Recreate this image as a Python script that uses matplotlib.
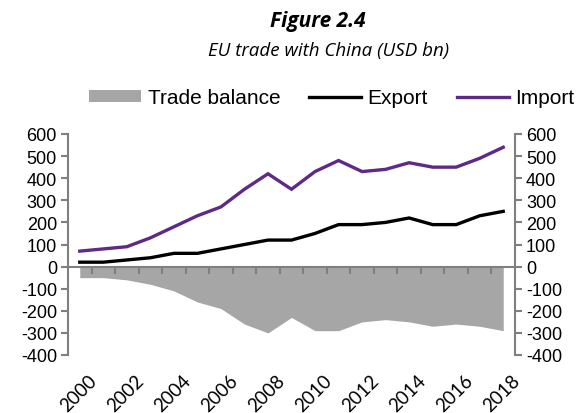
import matplotlib
matplotlib.use("Agg")
import matplotlib.pyplot as plt
import matplotlib.transforms as mtransforms
from matplotlib.patches import Patch
from matplotlib.lines import Line2D
import numpy as np

years = list(range(2000, 2019))
export = [20, 20, 30, 40, 60, 60, 80, 100, 120, 120, 150, 190, 190, 200, 220, 190, 190, 230, 250]
imports = [70, 80, 90, 130, 180, 230, 270, 350, 420, 350, 430, 480, 430, 440, 470, 450, 450, 490, 540]
balance = [-50, -50, -60, -80, -110, -160, -190, -260, -300, -230, -290, -290, -250, -240, -250, -270, -260, -270, -290]
yticks = [-400, -300, -200, -100, 0, 100, 200, 300, 400, 500, 600]

GRAY_AX = "#7f7f7f"
PURPLE = "#5e2a86"
AREA = "#a6a6a6"
TICKFONT = "Liberation Sans"

fig = plt.figure(figsize=(5.79, 4.14), dpi=100)
ax = fig.add_axes([68/579, 1-356/414, (515-68)/579, (356-135)/414])

x = np.arange(len(years))
ax.fill_between(x, 0, balance, color=AREA, linewidth=0, zorder=1)
ax.plot(x, export, color="black", lw=2.4, zorder=3, solid_joinstyle="miter")
ax.plot(x, imports, color=PURPLE, lw=2.4, zorder=3, solid_joinstyle="miter")

ax.set_xlim(-0.5, len(years) - 0.5)
ax.set_ylim(-400, 600)

for s in ["top", "right"]:
    ax.spines[s].set_visible(False)
ax.spines["left"].set_color(GRAY_AX)
ax.spines["left"].set_linewidth(1.5)
ax.spines["bottom"].set_position(("data", 0))
ax.spines["bottom"].set_color(GRAY_AX)
ax.spines["bottom"].set_linewidth(1.5)
ax.spines["bottom"].set_zorder(2)

ax.set_yticks(yticks)
ax.set_yticklabels([str(v) for v in yticks], fontsize=13, family=TICKFONT)
ax.tick_params(axis="y", direction="out", length=5, width=1.5, color=GRAY_AX, pad=3)

ax.set_xticks(np.arange(0.5, len(years) - 1, 1))
ax.set_xticklabels([])
ax.tick_params(axis="x", direction="out", length=5, width=1.5, color=GRAY_AX)

trans = mtransforms.blended_transform_factory(ax.transData, ax.transAxes)
for i, yr in enumerate(years):
    if yr % 2 == 0:
        ax.text(i + 0.35, -0.075, str(yr), transform=trans, rotation=45,
                rotation_mode="anchor", ha="right", va="top",
                fontsize=13.5, family="Lato")

ax2 = ax.twinx()
ax2.set_ylim(-400, 600)
for s in ["top", "left", "bottom"]:
    ax2.spines[s].set_visible(False)
ax2.spines["right"].set_color(GRAY_AX)
ax2.spines["right"].set_linewidth(1.5)
ax2.set_yticks(yticks)
ax2.set_yticklabels([str(v) for v in yticks], fontsize=13, family=TICKFONT)
ax2.tick_params(axis="y", direction="out", length=5, width=1.5, color=GRAY_AX, pad=3)

handles = [Patch(facecolor=AREA, edgecolor="none", label="Trade balance"),
           Line2D([], [], color="black", lw=2.4, label="Export"),
           Line2D([], [], color=PURPLE, lw=2.4, label="Import")]
fig.legend(handles=handles, loc="center", bbox_to_anchor=(332/579, 1-99/414), ncol=3,
           frameon=False, prop={"family": TICKFONT, "size": 15},
           handlelength=2.5, handleheight=0.55, handletextpad=0.3, columnspacing=1.4,
           borderaxespad=0, borderpad=0)

fig.text(318/579, 1-22/414, "Figure 2.4", ha="center", va="center",
         fontsize=15, fontweight="bold", style="italic", family="Open Sans")
fig.text(329/579, 1-51/414, "EU trade with China (USD bn)", ha="center", va="center",
         fontsize=13.5, style="italic", family="Open Sans")

fig.savefig("out.png", dpi=100)
